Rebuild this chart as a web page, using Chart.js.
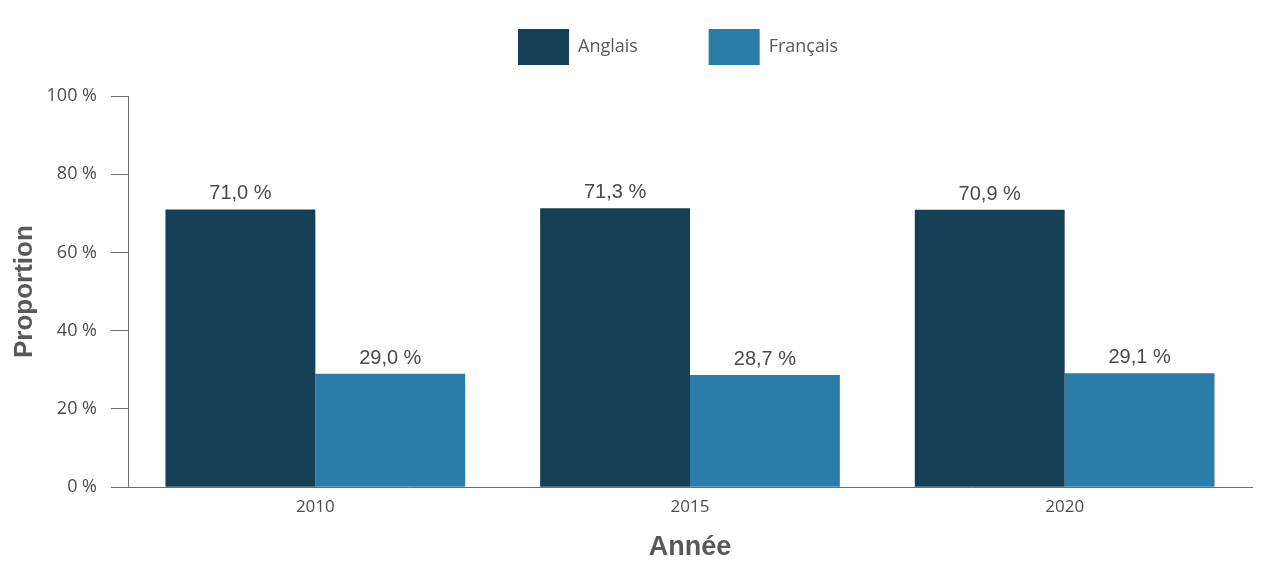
<!DOCTYPE html>
<html>
<head>
<meta charset="utf-8">
<script src="https://cdn.jsdelivr.net/npm/chart.js@4/dist/chart.umd.min.js"></script>
<style>
  html, body { margin: 0; padding: 0; background: #fff; }
  #wrap { width: 1266px; height: 574px; }
</style>
</head>
<body>
<div id="wrap"><canvas id="Chart"></canvas></div>
<script>
var annees = ['2010', '2015', '2020'];
var anglais = [71.0, 71.3, 70.9];
var francais = [29.0, 28.7, 29.1];
var yTicks = [0, 20, 40, 60, 80, 100];

var gris = '#58595b';

/* valeurs au-dessus des barres */
var etiquettes = {
  id: 'etiquettes',
  afterDatasetsDraw: function(chart) {
    var ctx = chart.ctx;
    ctx.save();
    ctx.font = '20px "Liberation Sans", Arial, sans-serif';
    ctx.fillStyle = '#4a4a4a';
    ctx.textAlign = 'center';
    ctx.textBaseline = 'alphabetic';
    chart.data.datasets.forEach(function(ds, i) {
      chart.getDatasetMeta(i).data.forEach(function(bar, j) {
        var txt = ds.data[j].toFixed(1).replace('.', ',') + ' %';
        ctx.fillText(txt, bar.x, bar.y - 10);
      });
    });
    ctx.restore();
  }
};

/* legende: hauteur et position fixes */
var legendeFixe = {
  id: 'legendeFixe',
  beforeLayout: function(chart) {
    var lg = chart.legend;
    if (lg && !lg._fixe) {
      var fit = lg.fit;
      lg.fit = function() {
        fit.call(this);
        this.height = 77;
      };
      lg._fixe = true;
    }
  },
  afterLayout: function(chart) {
    var lg = chart.legend;
    var w = lg.right - lg.left;
    lg.left = 508;
    lg.right = 508 + w;
  }
};

var ctx = document.getElementById('Chart');
var chart = new Chart(ctx, {
  type: 'bar',
  data: {
    labels: annees,
    datasets: [{
      label: 'Anglais',
      data: anglais,
      backgroundColor: '#153f55'
    }, {
      label: 'Français',
      data: francais,
      backgroundColor: '#2a7da8'
    }]
  },
  options: {
    responsive: true,
    maintainAspectRatio: false,
    animation: false,
    datasets: { bar: { categoryPercentage: 0.8, barPercentage: 1.0 } },
    layout: { padding: { left: 6, right: 14, top: 19, bottom: 8 } },
    plugins: {
      tooltip: { enabled: false },
      legend: {
        position: 'top',
        align: 'start',
        labels: {
          boxWidth: 51,
          boxHeight: 36,
          padding: 10,
          color: gris,
          font: { family: '"Open Sans", sans-serif', size: 18 },
          generateLabels: function(chart) {
            var items = Chart.defaults.plugins.legend.labels.generateLabels(chart);
            items[0].text = items[0].text + '             ';
            return items;
          }
        }
      }
    },
    scales: {
      x: {
        grid: { display: false, drawTicks: false },
        border: { display: true, color: '#6d6e71', width: 1 },
        ticks: {
          padding: 10,
          color: '#4d4d4d',
          font: { family: '"Open Sans", sans-serif', size: 17 }
        },
        title: {
          display: true,
          text: 'Année',
          color: gris,
          padding: { top: 4, bottom: 2 },
          font: { family: '"Liberation Sans", Arial, sans-serif', size: 27, weight: 'bold' }
        }
      },
      y: {
        min: 0,
        max: 100,
        afterFit: function(scale) { scale.width = 122; },
        afterBuildTicks: function(scale) {
          scale.ticks = yTicks.map(function(v) { return { value: v }; });
        },
        grid: {
          drawOnChartArea: false,
          drawTicks: true,
          tickLength: 17,
          color: '#6d6e71'
        },
        border: { display: true, color: '#6d6e71', width: 1 },
        ticks: {
          padding: 14,
          color: '#4d4d4d',
          font: { family: '"Open Sans", sans-serif', size: 18 },
          callback: function(v) { return v + ' %'; }
        },
        title: {
          display: true,
          text: 'Proportion',
          color: gris,
          padding: { top: 3, bottom: 4 },
          font: { family: '"Liberation Sans", Arial, sans-serif', size: 26, weight: 'bold' }
        }
      }
    }
  },
  plugins: [etiquettes, legendeFixe]
});
</script>
</body>
</html>
